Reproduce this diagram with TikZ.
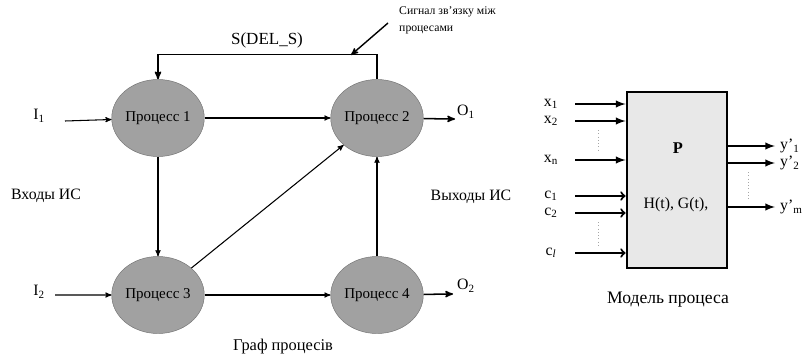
\documentclass[tikz,border=0pt]{standalone}
\usepackage{fontspec}
\setmainfont{Liberation Serif}
\usetikzlibrary{arrows,shapes.geometric}

\begin{document}
\begin{tikzpicture}[x=0.03cm,y=-0.03cm,>=stealth',node distance=6.57cm,
	proc/.style={ellipse,draw=black!55,fill=black!37,minimum width=2.73cm,minimum height=2.31cm,inner sep=0pt,font=\fontsize{12.8}{14}\selectfont},
	lbl/.style={font=\fontsize{13.5}{15}\selectfont},
	note/.style={font=\fontsize{10}{15}\selectfont,align=left,inner sep=0pt},
	flow/.style={->,line width=0.9pt},
	inp/.style={-latex,line width=1.8pt},
	cin/.style={-to,line width=1.8pt},
	dots/.style={dotted,line width=0.8pt,black!35}]

\useasboundingbox (0,0) rectangle (804,358);

% graph of processes
\node[proc]   (p1) at (158,118)                      {Процесс 1};
\node[proc]   (p2) [right of=p1]                     {Процесс 2};
\node[proc]   (p3) [below of=p1,node distance=5.31cm] {Процесс 3};
\node[proc]   (p4) [right of=p3]                     {Процесс 4};

\path[flow] (p1) edge (p2)
                 edge (p3)
            (p3) edge (p2)
                 edge (p4)
            (p4) edge (p2);

% feedback signal
\draw[flow,line width=1.3pt] (p2.north) -- ++(0,-25) coordinate (fbr) -| (p1.north);
\node[lbl,font=\fontsize{14.5}{16}\selectfont] (dels) at (267,40) {S(DEL\_S)};
\coordinate (sig) at (351,55);
\node[note,anchor=north west] (signote) at (399,6) {Сигнал зв'язку між\\процесами};
\draw[flow,line width=1.2pt] (388,23) coordinate (sigs) -- (sig);

% inputs and outputs
\node[lbl] (i1) at (39,116) {I\textsubscript{1}};
\node[lbl] (i2) at (39,292) {I\textsubscript{2}};
\node[lbl] (o1) at (466,112) {O\textsubscript{1}};
\node[lbl] (o2) at (466,286) {O\textsubscript{2}};
\coordinate (i1s) at (65,121);
\coordinate (i2s) at (55,295);
\coordinate (o1e) at (455,119);
\coordinate (o2e) at (453,294);
\draw[flow] (i1s) -- (p1);
\draw[flow] (i2s) -- (p3);
\draw[flow,line width=1.3pt] (p2) -- (o1e);
\draw[flow,line width=1.3pt] (p4) -- (o2e);

\node[lbl] (vhod)  at (46,196)  {Входы ИС};
\node[lbl] (vyhod) at (471,197) {Выходы ИС};
\node[lbl,font=\fontsize{14}{16}\selectfont] (graf)  at (283,347) {Граф процесів};

% process model
\node[draw,line width=2.4pt,fill=black!9,minimum width=3cm,minimum height=5.28cm] (mp) at (677,180) {};
\node[lbl,font=\fontsize{14}{16}\selectfont\bfseries] (pp) at (678,148) {P};
\node[lbl] (hg) at (676,205) {H(t), G(t),};
\node[lbl,font=\fontsize{15}{17}\selectfont] (model) at (668,300) {Модель процеса};

\foreach \yy/\tt in {104/1,121/2,160/n}{
	\node[lbl] (x\tt) at (551,\yy) {x\textsubscript{\tt}};
	\coordinate (xs\tt) at (575,\yy);
	\draw[inp] (xs\tt) -- (xs\tt -| mp.west);
}
\foreach \yy/\tt in {196/1,213/2,253/\textit{l}}{
	\node[lbl] (c\yy) at (551,\yy) {c\textsubscript{\tt}};
	\coordinate (cs\yy) at (575,\yy);
	\draw[cin] (cs\yy) -- (cs\yy -| mp.west);
}
\foreach \yy/\tt in {146/1,163/2,207/m}{
	\coordinate (ye\yy) at (775,\yy);
	\node[lbl,anchor=west] (y\yy) at (776,\yy) {y'\textsubscript{\tt}};
	\draw[inp] (ye\yy -| mp.east) -- (ye\yy);
}
\draw[dots] (598,130) -- (598,152);
\draw[dots] (598,222) -- (598,245);
\draw[dots] (748,172) -- (748,200);

\end{tikzpicture}
\end{document}
